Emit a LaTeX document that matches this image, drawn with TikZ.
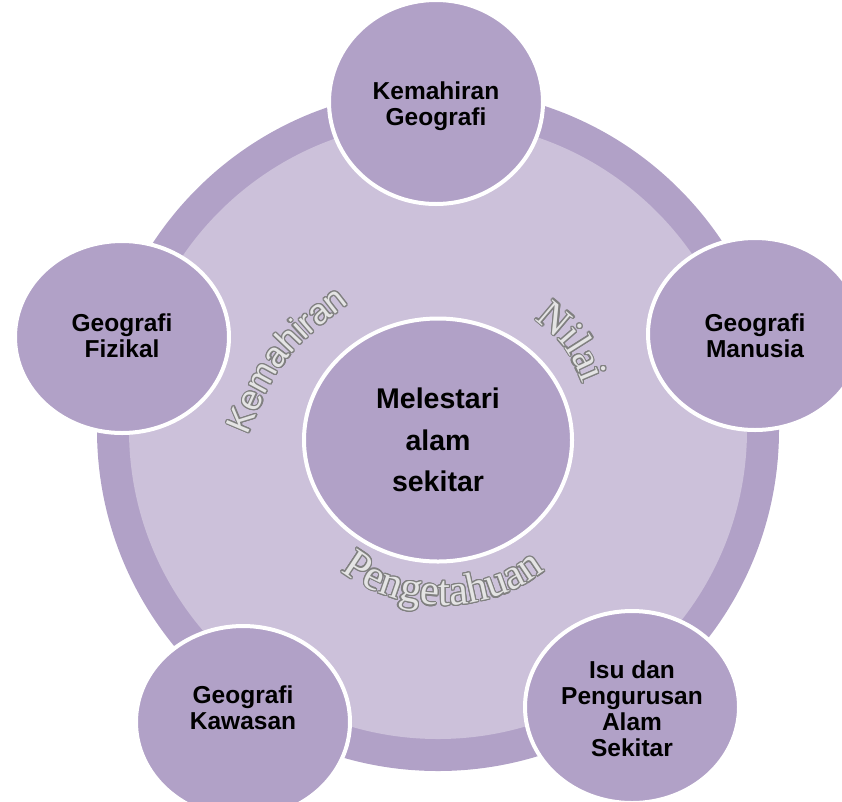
\documentclass[tikz,border=0pt]{standalone}
\usepackage{fontspec}
\usepackage{contour}
\usetikzlibrary{shapes.geometric,decorations.text}
\newfontfamily\lsans{Liberation Sans}
\newfontfamily\lserif{Liberation Serif}
\definecolor{ringdark}{HTML}{B1A1C7}
\definecolor{ringlight}{HTML}{CCC1DA}
\definecolor{wagray}{HTML}{808080}
\definecolor{wafill}{HTML}{E4E4E4}
\contourlength{1.2pt}
\contournumber{16}
\newcommand\wachar[1]{\contour{wagray}{\textcolor{wafill}{#1}}}
\begin{document}
\begin{tikzpicture}[x=1pt,y=-1pt,
  satnode/.style={ellipse, fill=ringdark, draw=white, line width=4pt,
    minimum width=214pt, minimum height=192pt, inner sep=0pt},
  sattext/.style={inner sep=0pt, align=center,
    font=\lsans\bfseries\fontsize{24.5}{26}\selectfont},
  hubnode/.style={ellipse, fill=ringdark, draw=white, line width=4pt,
    minimum width=268pt, minimum height=243pt, inner sep=0pt, align=center,
    font=\lsans\bfseries\fontsize{28.5}{41.5}\selectfont},
  disknode/.style={circle, inner sep=0pt}
]
\useasboundingbox (0,0) rectangle (842,801);
\clip (0,0) rectangle (842,801);
\node[disknode, fill=ringdark, minimum size=682pt] (outerring) at (438,430) {};
\node[disknode, fill=ringlight, minimum size=618pt] (innerdisk) at (438,430) {};

\node[hubnode] (hub) at (438,440) {Melestari\\alam\\sekitar};

\node[satnode, minimum height=204pt] (top) at (436,102) {};
\node[satnode] (left) at (122,337) {};
\node[satnode] (right) at (755,334) {};
\node[satnode] (botleft) at (243,722) {};
\node[satnode] (botright) at (632,707) {};

\node[sattext] (toptext) at (436,106) {Kemahiran\\Geografi};
\node[sattext] (lefttext) at (122,336) {Geografi\\Fizikal};
\node[sattext] (righttext) at (755,336) {Geografi\\Manusia};
\node[sattext] (botlefttext) at (243,708) {Geografi\\Kawasan};
\node[sattext] (botrighttext) at (632,709) {Isu dan\\Pengurusan\\Alam\\Sekitar};

\path[decorate, decoration={text effects along path, text={Kemahiran}, text align=center,
  text effects/.cd, text along path,
  characters={font=\lsans\fontsize{35}{35}\selectfont, inner sep=0pt},
  character command=\wachar}]
  (237,462) .. controls (280,356) .. (372,286);

\path[decorate, decoration={text effects along path, text={Nilai}, text align=center,
  text effects/.cd, text along path,
  characters={font=\lserif\fontsize{41}{41}\selectfont, inner sep=0pt},
  character command=\wachar}]
  (527,313) .. controls (567,345) .. (587,393);

\path[decorate, decoration={text effects along path, text={Pengetahuan}, text align=center,
  text effects/.cd, text along path,
  characters={font=\lserif\fontsize{43}{43}\selectfont, inner sep=0pt},
  character command=\wachar}]
  (299,522) .. controls (362,633) and (524,633) .. (587,522);
\end{tikzpicture}
\end{document}
